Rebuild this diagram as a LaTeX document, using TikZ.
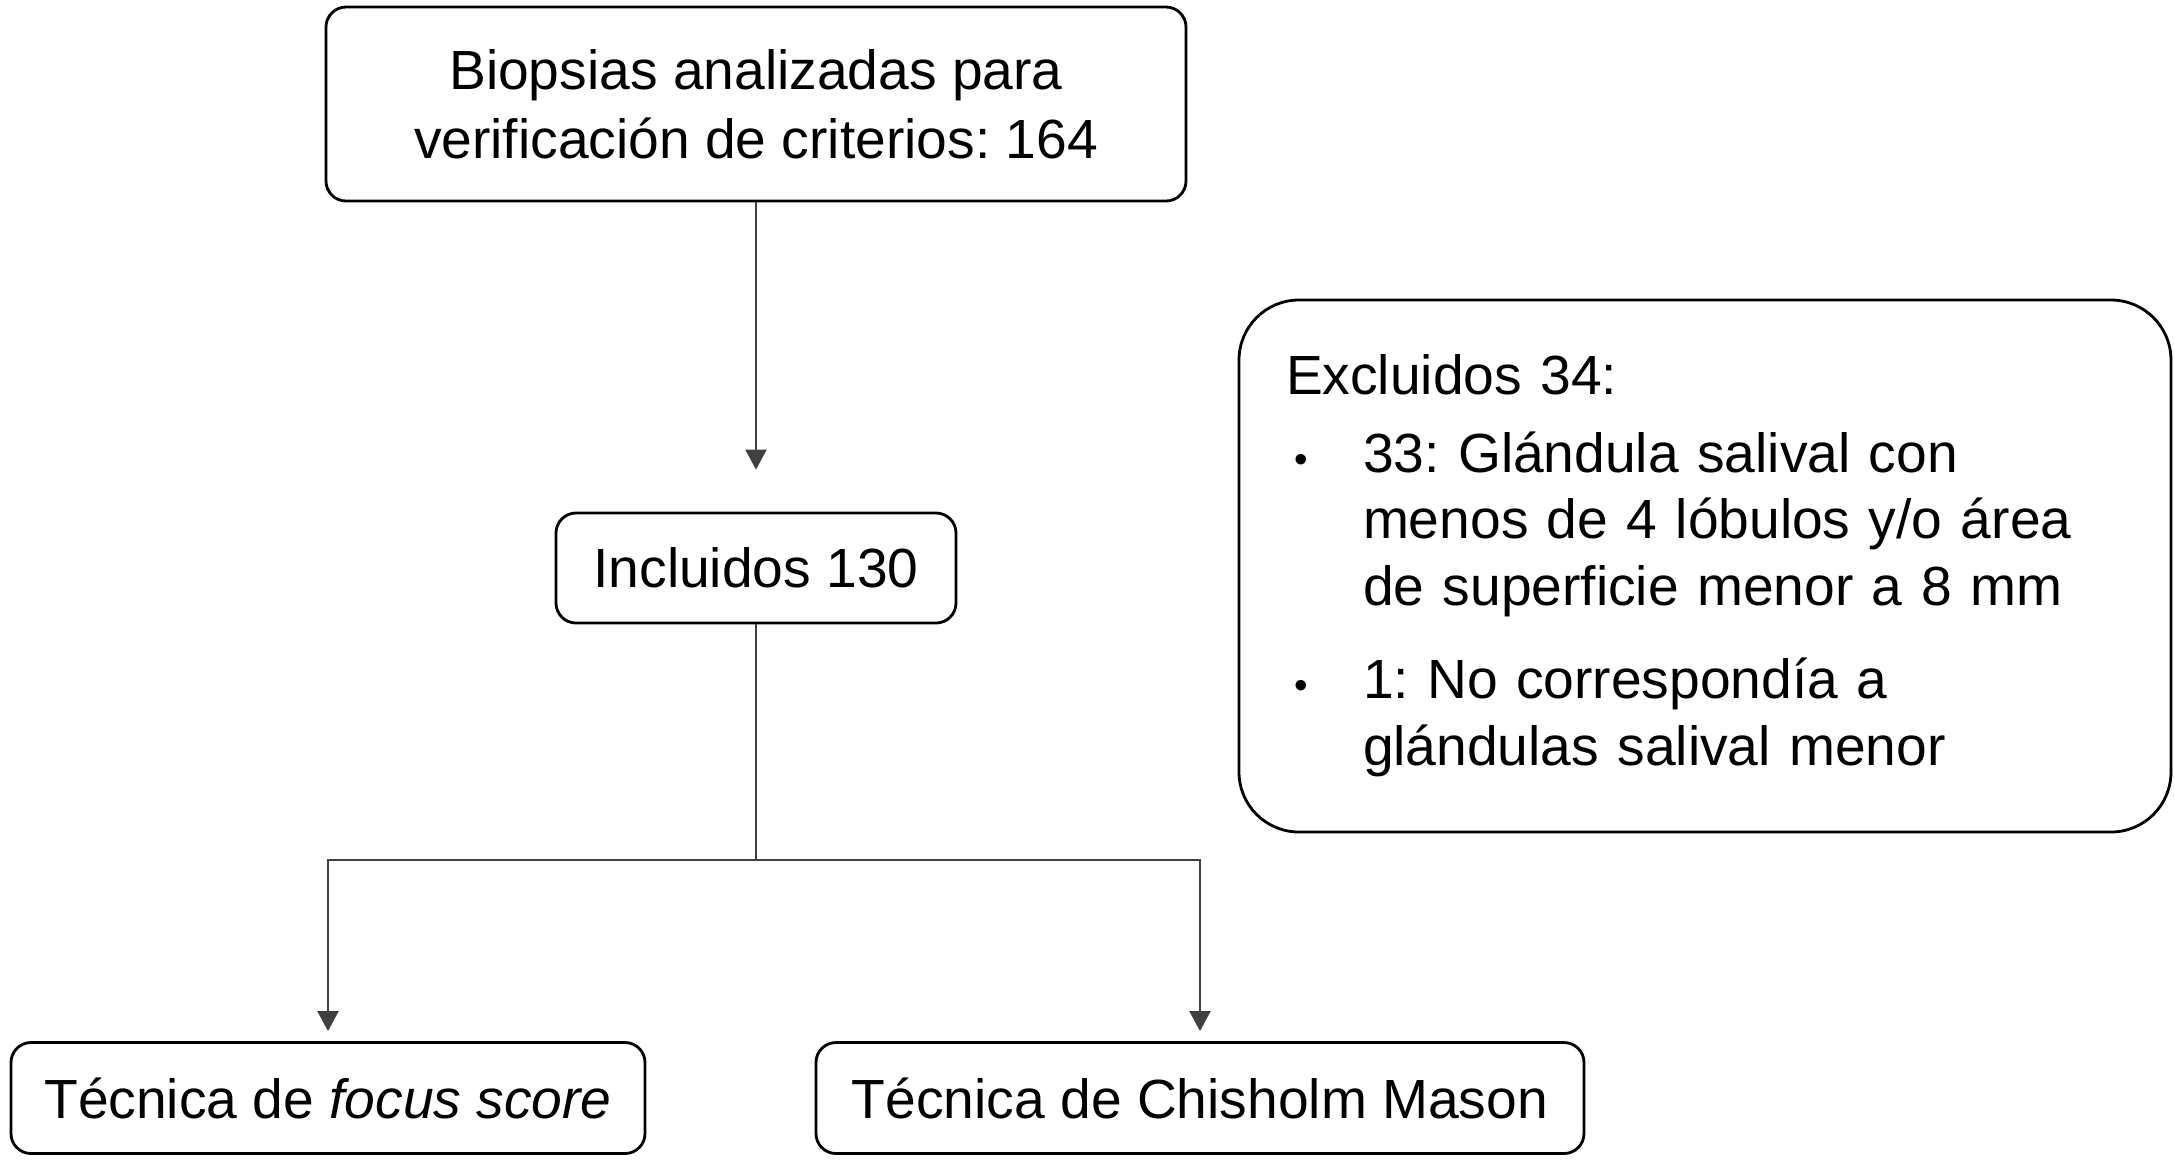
\documentclass[tikz,border=0pt]{standalone}
\usepackage{fontspec}
\setmainfont{Liberation Sans}
\usetikzlibrary{positioning,arrows.meta}
\frenchspacing

\begin{document}
\begin{tikzpicture}[
  x=1cm,
  y=1cm,
  every node/.style={
    font=\fontsize{15.7pt}{19.6pt}\selectfont,
    align=center
  },
  box/.style={
    draw=black,
    fill=white,
    rounded corners=.2cm,
    line width=.8pt,
    inner sep=0pt
  },
  wire/.style={
    black!75,
    line width=.6pt
  },
  link/.style={
    wire,
    -{Triangle[length=2mm,width=2.1mm]}
  }
]

\useasboundingbox (0,0) rectangle (21.75,-11.59);

\node[
  box,
  minimum width=8.6cm,
  minimum height=1.94cm
] (biop) at (7.56,-1.04)
{Biopsias analizadas para\\verificación de criterios: 164};

\node[
  box,
  minimum width=4.0cm,
  minimum height=1.1cm
] (incl) at (7.56,-5.68)
{Incluidos 130};

\node[
  box,
  rounded corners=.6cm,
  minimum width=9.32cm,
  minimum height=5.32cm,
  text width=8.38cm,
  align=left,
  font=\fontsize{15.7pt}{19pt}\selectfont
] (excl) at (17.05,-5.66)
{Excluidos 34:\\[3pt]
\makebox[.77cm][l]{\hspace{.08cm}{\fontsize{11pt}{11pt}\selectfont•}}33: Glándula salival con\\
\hspace*{.77cm}menos de 4 lóbulos y/o área\\
\hspace*{.77cm}de superficie menor a 8 mm\\[7.5pt]
\makebox[.77cm][l]{\hspace{.08cm}{\fontsize{11pt}{11pt}\selectfont•}}1: No correspondía a\\
\hspace*{.77cm}glándulas salival menor};

\node[
  box,
  minimum width=6.34cm,
  minimum height=1.11cm
] (focus) at (3.28,-10.98)
{Técnica de \textit{focus score}};

\node[
  box,
  minimum width=7.68cm,
  minimum height=1.11cm
] (chis) at (12.0,-10.98)
{Técnica de Chisholm Mason};

\coordinate (split) at (7.56,-8.6);

\draw[link, shorten >=.42cm] (biop) -- (incl);

\draw[wire] (incl) -- (split);

\foreach \n in {focus,chis}{
  \draw[link, shorten >=.1cm] (split) -| (\n);
}

\end{tikzpicture}
\end{document}
